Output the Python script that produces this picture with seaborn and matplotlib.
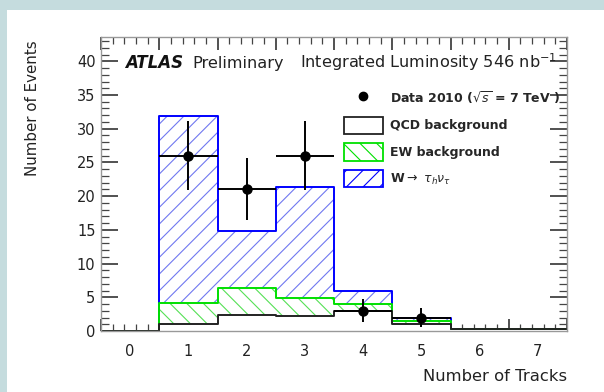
import matplotlib
matplotlib.use("Agg")
import matplotlib.pyplot as plt
import seaborn as sns
import numpy as np
from matplotlib.patches import Rectangle, Patch
from matplotlib.lines import Line2D
from matplotlib.ticker import MultipleLocator, FixedLocator

# ---------------- data ----------------
tracks = [0, 1, 2, 3, 4, 5, 6, 7]
bin_edges = [-0.5, 0.5, 1.5, 2.5, 3.5, 4.5, 5.5, 6.5, 7.5]
qcd_top = [0.0, 1.0, 2.3, 2.2, 2.9, 1.0, 0.25, 0.25]      # QCD background
ew_top = [0.0, 4.2, 6.4, 4.9, 4.0, 1.5, 0.3, 0.3]         # QCD + EW (stacked)
w_top = [0.0, 31.9, 14.9, 21.4, 5.9, 1.9, 0.3, 0.35]      # QCD + EW + W->tau nu (stacked)
data_x = [1, 2, 3, 4, 5]
data_y = [26, 21, 26, 3, 2]
data_err = [5.1, 4.6, 5.1, 1.7, 1.4]
x_labels = ["0", "1", "2", "3", "4", "5", "6", "7"]

sns.set_theme(style="white")
plt.rcParams["font.family"] = ["DejaVu Sans"]
plt.rcParams["hatch.linewidth"] = 0.8

fig = plt.figure(figsize=(6.04, 3.92), dpi=100, facecolor="#c5dcde")
fig.add_artist(Rectangle((7 / 604, 0), 1, (392 - 10) / 392, transform=fig.transFigure,
                         facecolor="white", edgecolor="none", zorder=-5))
ax = fig.add_axes([101 / 604, 61 / 392, 466 / 604, 294 / 392])
ax.set_facecolor("white")

# fills (stacked, drawn back to front)
plt.rcParams["hatch.color"] = "#7078f0"
sns.histplot(x=tracks, weights=w_top, bins=bin_edges, element="step", fill=True,
             facecolor="white", edgecolor="#7078f0", hatch="//", linewidth=0, alpha=1, ax=ax)
plt.rcParams["hatch.color"] = "#55e055"
sns.histplot(x=tracks, weights=ew_top, bins=bin_edges, element="step", fill=True,
             facecolor="white", edgecolor="#55e055", hatch="\\\\", linewidth=0, alpha=1, ax=ax)
sns.histplot(x=tracks, weights=qcd_top, bins=bin_edges, element="step", fill=True,
             facecolor="white", edgecolor="white", linewidth=0, alpha=1, ax=ax)

# outlines
sns.histplot(x=tracks, weights=w_top, bins=bin_edges, element="step", fill=False,
             color="#0000ff", linewidth=1.4, ax=ax)
sns.histplot(x=tracks, weights=ew_top, bins=bin_edges, element="step", fill=False,
             color="#00e000", linewidth=1.4, ax=ax)
sns.histplot(x=tracks, weights=qcd_top, bins=bin_edges, element="step", fill=False,
             color="#222222", linewidth=1.4, ax=ax)

# data points
ax.errorbar(data_x, data_y, xerr=0.5, yerr=data_err, fmt="o", color="black",
            ms=6.5, lw=1.4, capsize=0, zorder=10)

ax.set_xlim(-0.5, 7.5)
ax.set_ylim(0, 43.6)

# y ticks
ax.yaxis.set_major_locator(MultipleLocator(5))
ax.yaxis.set_minor_locator(MultipleLocator(1))
ax.tick_params(axis="y", which="major", direction="in", length=12, width=1.1,
               left=True, right=True, labelsize=10.5, labelcolor="#222222", pad=4, color="#222222")
ax.tick_params(axis="y", which="minor", direction="in", length=6, width=0.9,
               left=True, right=True, color="#444444")

# x labels (no tick marks at integers)
ax.set_xticks(tracks)
ax.set_xticklabels(x_labels)
ax.tick_params(axis="x", which="major", length=0, pad=9, labelsize=10.5, labelcolor="#222222")

minor_pos = [e + 0.2 * k for e in bin_edges[:-1] for k in (1, 2, 3, 4)]
for side in ("bottom", "top"):
    sec = ax.secondary_xaxis(side)
    sec.set_xticks(bin_edges)
    sec.set_xticklabels([])
    sec.xaxis.set_minor_locator(FixedLocator(minor_pos))
    sec.tick_params(which="major", direction="in", length=9, width=1.1, color="#222222")
    sec.tick_params(which="minor", direction="in", length=5, width=0.9, color="#444444")
    for sp in sec.spines.values():
        sp.set_visible(False)

for sp in ax.spines.values():
    sp.set_color("#999999")
    sp.set_linewidth(1.0)

ax.set_xlabel("Number of Tracks", fontsize=11.8, color="#222222", loc="right")
ax.set_ylabel("Number of Events", fontsize=10.8, color="#222222", loc="top")
ax.xaxis.set_label_coords(1.0, -0.13)
ax.yaxis.set_label_coords(-0.13, 0.99)

# annotations
ax.text(0.0515, 0.894, "ATLAS", transform=ax.transAxes, fontsize=12, weight="bold",
        style="italic", va="baseline", color="#111111")
ax.text(0.197, 0.894, "Preliminary", transform=ax.transAxes, fontsize=11.6,
        va="baseline", color="#222222")
ax.text(0.427, 0.894, r"Integrated Luminosity 546 nb$^{-1}$", transform=ax.transAxes,
        fontsize=11.6, va="baseline", color="#222222")

# legend
handles = [
    Line2D([], [], marker="o", color="black", ls="none", ms=6),
    Patch(facecolor="white", edgecolor="#222222", lw=1.3),
    Patch(facecolor="white", edgecolor="#00e000", hatch="\\\\", lw=1.3),
    Patch(facecolor="white", edgecolor="#0000ff", hatch="//", lw=1.3),
]
labels = [r"Data 2010 ($\sqrt{s}$ = 7 TeV )", "QCD background", "EW background",
          r"W$\rightarrow$ $\tau_{h}\nu_{\tau}$"]
leg = ax.legend(handles, labels, loc="upper left", bbox_to_anchor=(0.521, 0.823),
                frameon=False, borderpad=0, borderaxespad=0, handlelength=3.1,
                handleheight=1.75, labelspacing=0.75, handletextpad=0.6,
                prop={"size": 9, "weight": "bold"})

fig.savefig("out.png", dpi=100, facecolor=fig.get_facecolor())
